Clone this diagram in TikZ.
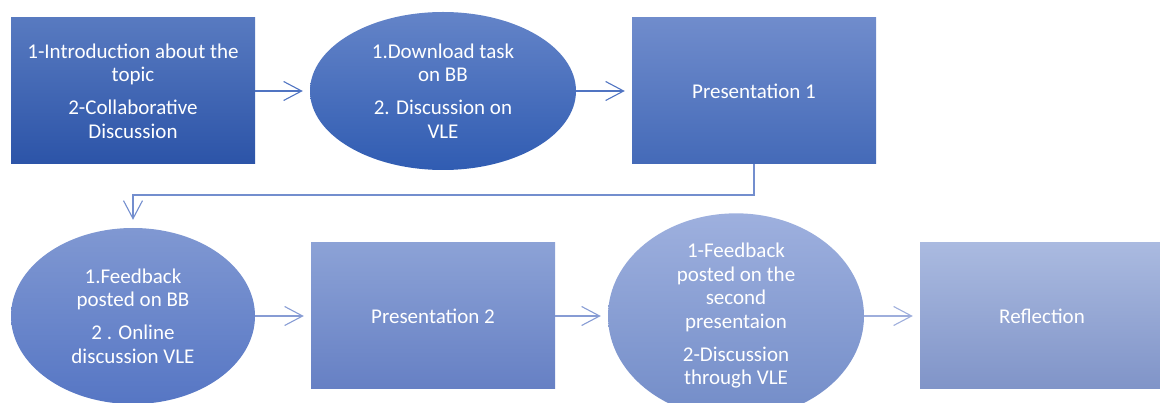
\documentclass[tikz,border=0pt]{standalone}
\usepackage{fontspec}
\setmainfont{Carlito}
\usetikzlibrary{shapes.geometric,arrows.meta}
\definecolor{rAt}{RGB}{88,122,192}\definecolor{rAb}{RGB}{44,84,168}
\definecolor{eAt}{RGB}{100,132,200}\definecolor{eAb}{RGB}{48,92,178}
\definecolor{pAt}{RGB}{112,140,204}\definecolor{pAb}{RGB}{68,106,184}
\definecolor{eBt}{RGB}{128,152,210}\definecolor{eBb}{RGB}{86,118,196}
\definecolor{pBt}{RGB}{140,162,214}\definecolor{pBb}{RGB}{102,128,196}
\definecolor{eCt}{RGB}{158,176,222}\definecolor{eCb}{RGB}{114,140,200}
\definecolor{rCt}{RGB}{170,186,224}\definecolor{rCb}{RGB}{128,148,200}
\definecolor{lnA}{RGB}{80,116,194}
\definecolor{lnB}{RGB}{115,142,206}
\definecolor{lnC}{RGB}{135,156,212}
\definecolor{lnD}{RGB}{158,174,220}
\begin{document}
\begin{tikzpicture}[x=1pt,y=-1pt,
  lbl/.style={text=white, align=center, font=\fontsize{21}{23.5}\selectfont},
  box/.style={lbl, rectangle, minimum width=244pt, minimum height=146pt, inner sep=0pt},
  oval/.style={lbl, ellipse, inner sep=0pt},
  flow/.style={-{Straight Barb[length=18pt,width=19pt]}, line width=1.1pt, shorten >=7pt}]
\useasboundingbox (0,0) rectangle (1160,403);
\clip (0,0) rectangle (1160,403);
\node[box, top color=rAt, bottom color=rAb] (r1) at (133,91)
  {1-Introduction about the\\topic\\[9.5pt]2-Collaborative\\Discussion};
\node[oval, minimum width=266pt, minimum height=158pt, top color=eAt, bottom color=eAb] (e1) at (443,91)
  {1.Download task\\on BB\\[9.5pt]2. Discussion on\\VLE};
\node[box, top color=pAt, bottom color=pAb] (p1) at (754,91) {Presentation 1};
\node[oval, minimum width=244pt, minimum height=176pt, top color=eBt, bottom color=eBb] (e3) at (133,316)
  {1.Feedback\\posted on BB\\[9.5pt]2 . Online\\discussion VLE};
\node[box, top color=pBt, bottom color=pBb] (p2) at (433,316) {Presentation 2};
\node[oval, minimum width=256pt, minimum height=178pt, top color=eCt, bottom color=eCb] (e4) at (736,316)
  {1-Feedback\\posted on the\\second\\presentaion\\[9.5pt]2-Discussion\\through VLE};
\node[box, top color=rCt, bottom color=rCb] (r5) at (1042,316) {Reflection};
\coordinate (turn) at (133,195);
\draw[flow, draw=lnA] (r1.east) -- (e1.west);
\draw[flow, draw=lnA] (e1.east) -- (p1.west);
\draw[flow, draw=lnB, shorten >=8pt] (p1.south) |- (turn) -- (e3.north);
\draw[flow, draw=lnC] (e3.east) -- (p2.west);
\draw[flow, draw=lnC] (p2.east) -- (e4.west);
\draw[flow, draw=lnD] (e4.east) -- (r5.west);
\end{tikzpicture}
\end{document}
